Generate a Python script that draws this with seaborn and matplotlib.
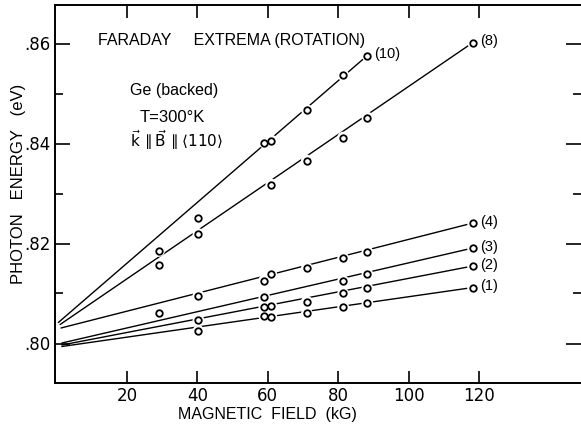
import seaborn as sns
import matplotlib.pyplot as plt
import pandas as pd
import numpy as np

# points (field in kG, photon energy in eV)
field_10 = [29.1, 40.3, 59.0, 61.0, 71.1, 81.4, 88.3]
energy_10 = [.8185, .8252, .8402, .8406, .8467, .8537, .8576]
field_8 = [29.1, 40.3, 61.0, 71.1, 81.4, 88.3, 118.3]
energy_8 = [.8157, .8219, .8318, .8366, .8412, .8452, .8602]
field_4 = [29.1, 40.3, 59.0, 61.0, 71.1, 81.4, 88.3, 118.3]
energy_4 = [.8062, .8096, .8126, .8139, .8151, .8171, .8183, .8241]
field_3 = [59.0, 81.4, 88.3, 118.3]
energy_3 = [.8093, .8125, .8139, .8191]
field_2 = [40.3, 59.0, 61.0, 71.1, 81.4, 88.3, 118.3]
energy_2 = [.8047, .8074, .8076, .8084, .8100, .8111, .8155]
field_1 = [40.3, 59.0, 61.0, 71.1, 81.4, 88.3, 118.3]
energy_1 = [.8025, .8055, .8054, .8060, .8074, .8081, .8112]

series = ["(10)", "(8)", "(4)", "(3)", "(2)", "(1)"]
# drawn straight lines: start and end of each
line_b0 = [0.5, 1.0, 1.25, 1.5, 1.5, 1.5]
line_e0 = [.8042, .8038, .8031, .8001, .7997, .7994]
line_b1 = [88.3, 118.3, 118.3, 118.3, 118.3, 118.3]
line_e1 = [.8576, .8602, .8241, .8191, .8155, .8112]

x_ticks = [20, 40, 60, 80, 100, 120]
y_ticks = [.80, .82, .84, .86]
y_tick_labels = [".80", ".82", ".84", ".86"]
y_minor = [.81, .83, .85]

fields = [field_10, field_8, field_4, field_3, field_2, field_1]
energies = [energy_10, energy_8, energy_4, energy_3, energy_2, energy_1]

pts = pd.concat([pd.DataFrame({'B': f, 'E': e, 'series': s})
                 for f, e, s in zip(fields, energies, series)], ignore_index=True)
lines = pd.concat([pd.DataFrame({'B': [b0, b1], 'E': [e0, e1], 'series': s})
                   for b0, e0, b1, e1, s in zip(line_b0, line_e0, line_b1, line_e1, series)],
                  ignore_index=True)

sns.set_style("ticks")
lab = ['Liberation Sans', 'DejaVu Sans']
plt.rcParams['font.family'] = ['DejaVu Sans']
plt.rcParams['text.color'] = 'black'
plt.rcParams['xtick.color'] = 'black'
plt.rcParams['ytick.color'] = 'black'
plt.rcParams['axes.edgecolor'] = 'black'

fig = plt.figure(figsize=(5.81, 4.26), dpi=100)
ax = fig.add_axes([55 / 581, 1 - 383 / 426, 526 / 581, 378 / 426])

sns.lineplot(data=lines, x='B', y='E', units='series', estimator=None,
             color='black', lw=1.0, ax=ax, zorder=2)
# white halo so the line breaks around each circle
sns.scatterplot(data=pts, x='B', y='E', s=70, color='white', edgecolor='none',
                ax=ax, zorder=3)
sns.scatterplot(data=pts, x='B', y='E', s=22, facecolor='white', edgecolor='black',
                linewidth=1.3, ax=ax, zorder=4)

for s, f, e in zip(series, fields, energies):
    ax.annotate(s, (f[-1], e[-1]), xytext=(5, 1), textcoords='offset points',
                fontsize=10.5, va='center', ha='left', family=lab)

ax.set_xlim(-0.45, 149)
ax.set_ylim(0.7921, 0.8677)
ax.set_xticks(x_ticks)
ax.set_xticklabels([str(t) for t in x_ticks], fontsize=12)
ax.set_yticks(y_ticks)
ax.set_yticklabels(y_tick_labels, fontsize=12)
ax.set_yticks(y_minor, minor=True)
ax.tick_params(axis='y', which='major', direction='in', length=11, width=1.2,
               right=True, pad=3)
ax.tick_params(axis='y', which='minor', direction='in', length=5.5, width=1.2,
               right=True)
ax.tick_params(axis='x', which='major', direction='in', length=9, width=1.2,
               top=True, pad=3)
ax.spines['right'].set_visible(False)
for sp in ['left', 'bottom', 'top']:
    ax.spines[sp].set_linewidth(1.4)
ax.set_xlabel('')
ax.set_ylabel('')

ax.text(0.0817, 0.905, 'FARADAY     EXTREMA (ROTATION)', transform=ax.transAxes,
        fontsize=11.5, va='center', ha='left', family=lab)
ax.text(0.1426, 0.775, 'Ge (backed)', transform=ax.transAxes,
        fontsize=11.5, va='center', ha='left', family=lab)
ax.text(0.1616, 0.7037, 'T=300°K', transform=ax.transAxes,
        fontsize=12, va='center', ha='left', family=lab)
ax.text(0.1426, 0.643, r'$\vec{\mathrm{k}}\,\parallel\vec{\mathrm{B}}\,\parallel\langle 110\rangle$',
        transform=ax.transAxes, fontsize=11, va='center', ha='left')

fig.text(0.461, 0.028, 'MAGNETIC  FIELD  (kG)', fontsize=11.5, ha='center',
         va='center', family=lab)
fig.text(0.031, 0.568, 'PHOTON   ENERGY   (eV)', fontsize=12, ha='center',
         va='center', rotation=90, family=lab)

fig.savefig('out.png', dpi=100)
